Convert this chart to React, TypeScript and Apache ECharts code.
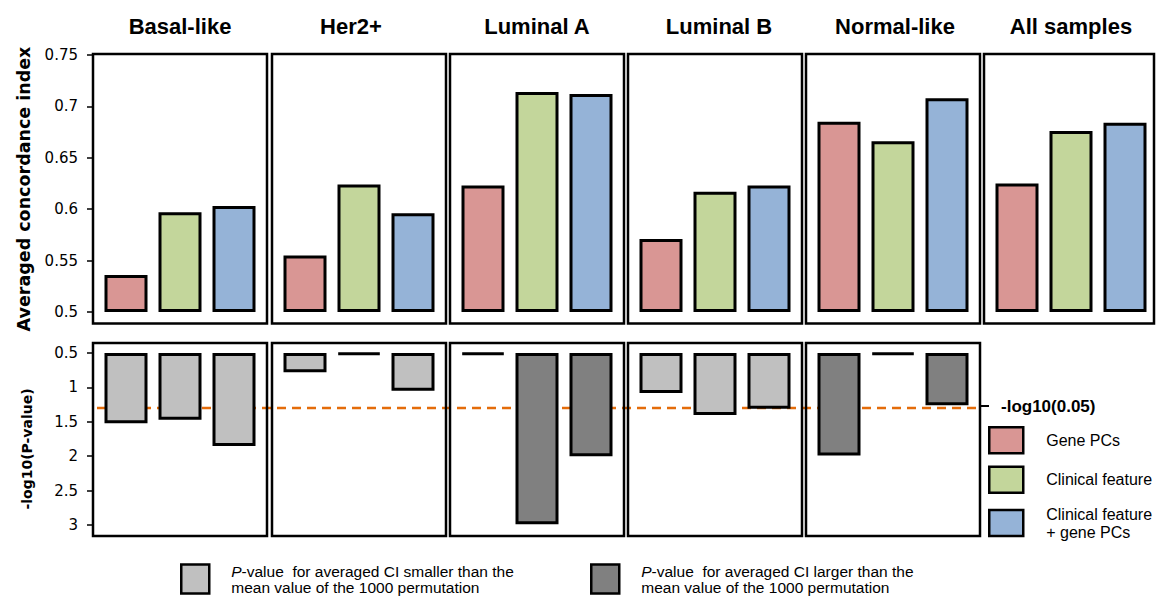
import React, { useEffect, useRef } from 'react';
import * as echarts from 'echarts';

// ---------- data ----------
const SUBTYPES = ['Basal-like', 'Her2+', 'Luminal A', 'Luminal B', 'Normal-like', 'All samples'];
const MODELS = ['Gene PCs', 'Clinical feature', 'Clinical feature\n+ gene PCs'];
const MODEL_COLORS = ['#D99694', '#C3D69B', '#95B3D7'];

// averaged concordance index per subtype
const GENE_PCS_CI = [0.536, 0.555, 0.623, 0.571, 0.685, 0.625];
const CLINICAL_CI = [0.597, 0.624, 0.714, 0.617, 0.666, 0.676];
const COMBINED_CI = [0.603, 0.596, 0.712, 0.623, 0.708, 0.684];

// -log10(P-value) per subtype (first five subtypes)
const GENE_PCS_LOGP = [1.52, 0.78, 0.52, 1.08, 1.99];
const CLINICAL_LOGP = [1.47, 0.52, 2.99, 1.4, 0.52];
const COMBINED_LOGP = [1.85, 1.05, 2.0, 1.31, 1.26];

// direction of the averaged CI vs permutation mean: 'smaller' | 'larger'
const GENE_PCS_DIR = ['smaller', 'smaller', 'larger', 'smaller', 'larger'];
const CLINICAL_DIR = ['smaller', 'smaller', 'larger', 'smaller', 'larger'];
const COMBINED_DIR = ['smaller', 'smaller', 'larger', 'smaller', 'larger'];

const SMALLER_NAME = 'P-value  for averaged CI smaller than the\nmean value of the 1000 permutation';
const LARGER_NAME = 'P-value  for averaged CI larger than the\nmean value of the 1000 permutation';
const SMALLER_COLOR = '#C0C0C0';
const LARGER_COLOR = '#808080';

const CI_MIN = 0.5;
const CI_MAX = 0.75;
const CI_STEP = 0.05;
const LOGP_MIN = 0.5;
const LOGP_MAX = 3;
const LOGP_STEP = 0.5;
const THRESHOLD = -Math.log10(0.05);
const THRESHOLD_LABEL = '-log10(0.05)';

// ---------- layout ----------
const PANEL_X = [93, 272, 450, 628, 806, 984];
const PANEL_W = [174, 174, 174, 174, 174, 170];
const TITLE_DX = [0, -8, 0, 4, 2, 0];
const INNER_PAD = 6;
const TOP_GRID = { top: 55, height: 257 };
const TOP_FRAME = { y: 54, height: 269.5 };
const BOT_GRID = { top: 353, height: 172 };
const BOT_FRAME = { y: 343, height: 193 };

const AXIS_FONT = 'DejaVu Sans';
const SANS = 'Liberation Sans';

export default function App() {
  const ref = useRef<HTMLDivElement>(null);

  useEffect(() => {
    document.body.style.margin = '0';
    if (!ref.current) return;
    const chart = echarts.init(ref.current, undefined, { renderer: 'svg' });

    const grids: any[] = [];
    const xAxes: any[] = [];
    const yAxes: any[] = [];
    const series: any[] = [];
    const graphics: any[] = [];

    const ciSeries = [GENE_PCS_CI, CLINICAL_CI, COMBINED_CI];
    const logpSeries = [GENE_PCS_LOGP, CLINICAL_LOGP, COMBINED_LOGP];
    const dirSeries = [GENE_PCS_DIR, CLINICAL_DIR, COMBINED_DIR];

    const axisLabelStyle = { fontFamily: AXIS_FONT, fontSize: 15, color: '#000', margin: 15 };

    // top panels
    SUBTYPES.forEach((name, i) => {
      const gi = grids.length;
      grids.push({
        left: PANEL_X[i] + INNER_PAD,
        width: 174 - 2 * INNER_PAD,
        top: TOP_GRID.top,
        height: TOP_GRID.height,
        containLabel: false,
      });
      xAxes.push({ gridIndex: gi, type: 'category', data: MODELS, show: false });
      yAxes.push({
        gridIndex: gi,
        type: 'value',
        min: CI_MIN,
        max: CI_MAX,
        interval: CI_STEP,
        startValue: CI_MIN,
        show: i === 0,
        offset: INNER_PAD,
        axisLine: { show: false },
        axisTick: { show: true, length: 6, lineStyle: { color: '#000', width: 1.5 } },
        axisLabel: axisLabelStyle,
        splitLine: { show: false },
      });
      MODELS.forEach((m, k) => {
        series.push({
          type: 'bar',
          name: m,
          xAxisIndex: gi,
          yAxisIndex: gi,
          barWidth: 43,
          barGap: '-100%',
          z: 3,
          itemStyle: { color: MODEL_COLORS[k], borderColor: '#000', borderWidth: 3 },
          data: MODELS.map((_, j) => (j === k ? ciSeries[k][i] : '-')),
        });
      });
      graphics.push({
        type: 'rect',
        silent: true,
        z: 10,
        shape: { x: PANEL_X[i], y: TOP_FRAME.y, width: PANEL_W[i], height: TOP_FRAME.height },
        style: { fill: 'none', stroke: '#000', lineWidth: 2.5 },
      });
      graphics.push({
        type: 'text',
        silent: true,
        x: PANEL_X[i] + 87 + TITLE_DX[i],
        y: 26,
        style: {
          text: name,
          font: `bold 22px "${SANS}"`,
          fill: '#000',
          textAlign: 'center',
          verticalAlign: 'middle',
          textVerticalAlign: 'middle',
        },
      });
    });

    // bottom panels (first five subtypes)
    SUBTYPES.slice(0, 5).forEach((_, i) => {
      const gi = grids.length;
      grids.push({
        left: PANEL_X[i] + INNER_PAD,
        width: 174 - 2 * INNER_PAD,
        top: BOT_GRID.top,
        height: BOT_GRID.height,
      });
      xAxes.push({ gridIndex: gi, type: 'category', data: MODELS, show: false });
      yAxes.push({
        gridIndex: gi,
        type: 'value',
        inverse: true,
        min: LOGP_MIN,
        max: LOGP_MAX,
        interval: LOGP_STEP,
        startValue: LOGP_MIN,
        show: i === 0,
        offset: INNER_PAD,
        axisLine: { show: false },
        axisTick: { show: true, length: 6, lineStyle: { color: '#000', width: 1.5 } },
        axisLabel: axisLabelStyle,
        splitLine: { show: false },
      });
      const vals = logpSeries.map((arr) => arr[i]);
      const dirs = dirSeries.map((arr) => arr[i]);
      [
        { name: SMALLER_NAME, dir: 'smaller', color: SMALLER_COLOR },
        { name: LARGER_NAME, dir: 'larger', color: LARGER_COLOR },
      ].forEach((g) => {
        series.push({
          type: 'bar',
          name: g.name,
          xAxisIndex: gi,
          yAxisIndex: gi,
          barWidth: 43,
          barGap: '-100%',
          z: 3,
          itemStyle: { color: g.color, borderColor: '#000', borderWidth: 3 },
          data: vals.map((v, j) => (dirs[j] === g.dir ? v : '-')),
        });
      });
      graphics.push({
        type: 'rect',
        silent: true,
        z: 10,
        shape: { x: PANEL_X[i], y: BOT_FRAME.y, width: PANEL_W[i], height: BOT_FRAME.height },
        style: { fill: 'none', stroke: '#000', lineWidth: 2.5 },
      });
    });

    // threshold line grid spanning the five bottom panels
    const tg = grids.length;
    grids.push({ left: 97, width: 883, top: BOT_GRID.top, height: BOT_GRID.height });
    xAxes.push({ gridIndex: tg, type: 'value', min: 0, max: 1, show: false });
    yAxes.push({ gridIndex: tg, type: 'value', inverse: true, min: LOGP_MIN, max: LOGP_MAX, show: false });
    series.push({
      type: 'line',
      name: THRESHOLD_LABEL,
      xAxisIndex: tg,
      yAxisIndex: tg,
      z: 1,
      showSymbol: false,
      symbol: 'none',
      silent: true,
      lineStyle: { color: '#E46C0A', width: 2.5, type: [9, 6] },
      data: [
        [0, THRESHOLD],
        [1, THRESHOLD],
      ],
    });

    // axis names
    graphics.push({
      type: 'text',
      silent: true,
      x: 24,
      y: 189,
      rotation: Math.PI / 2,
      style: {
        text: 'Averaged concordance index',
        font: `bold 17.5px "${AXIS_FONT}"`,
        fill: '#000',
        textAlign: 'center',
        verticalAlign: 'middle',
        textVerticalAlign: 'middle',
      },
    });
    graphics.push({
      type: 'text',
      silent: true,
      x: 27,
      y: 449,
      rotation: Math.PI / 2,
      style: {
        text: '-log10(P-value)',
        font: `bold 14px "${AXIS_FONT}"`,
        fill: '#000',
        textAlign: 'center',
        verticalAlign: 'middle',
        textVerticalAlign: 'middle',
      },
    });

    // threshold legend
    graphics.push({
      type: 'line',
      silent: true,
      shape: { x1: 981, y1: 406, x2: 989, y2: 406 },
      style: { stroke: '#000', lineWidth: 2 },
    });
    graphics.push({
      type: 'text',
      silent: true,
      x: 1001,
      y: 406,
      style: {
        text: THRESHOLD_LABEL,
        font: `bold 17px "${SANS}"`,
        fill: '#000',
        textAlign: 'left',
        verticalAlign: 'middle',
        textVerticalAlign: 'middle',
      },
    });

    const bottomLegend = (name: string, left: number) => ({
      data: [name],
      left,
      top: 563,
      padding: 0,
      icon: 'rect',
      selectedMode: false,
      itemWidth: 28,
      itemHeight: 29,
      itemStyle: { borderColor: '#000', borderWidth: 2.5 },
      formatter: (n: string) => '{i|' + n[0] + '}' + n.slice(1),
      textStyle: {
        fontFamily: SANS,
        fontSize: 15.5,
        lineHeight: 16,
        color: '#000',
        padding: [0, 0, 0, 17],
        rich: { i: { fontStyle: 'italic', fontFamily: SANS, fontSize: 15.5, lineHeight: 16, color: '#000' } },
      },
    });

    chart.setOption({
      animation: false,
      backgroundColor: '#fff',
      grid: grids,
      xAxis: xAxes,
      yAxis: yAxes,
      series,
      graphic: graphics,
      legend: [
        {
          data: MODELS,
          orient: 'vertical',
          left: 988,
          top: 426,
          padding: 0,
          icon: 'rect',
          selectedMode: false,
          itemWidth: 34,
          itemHeight: 26,
          itemGap: 11,
          itemStyle: { borderColor: '#000', borderWidth: 2.5 },
          textStyle: {
            fontFamily: SANS,
            fontSize: 16,
            lineHeight: 18,
            color: '#000',
            padding: [0, 0, 0, 18],
          },
        },
        bottomLegend(SMALLER_NAME, 180),
        bottomLegend(LARGER_NAME, 590),
      ],
    });

    return () => {
      chart.dispose();
    };
  }, []);

  return (
    <div
      ref={ref}
      style={{ position: 'absolute', left: 0, top: 0, width: 1156, height: 597 }}
    />
  );
}
